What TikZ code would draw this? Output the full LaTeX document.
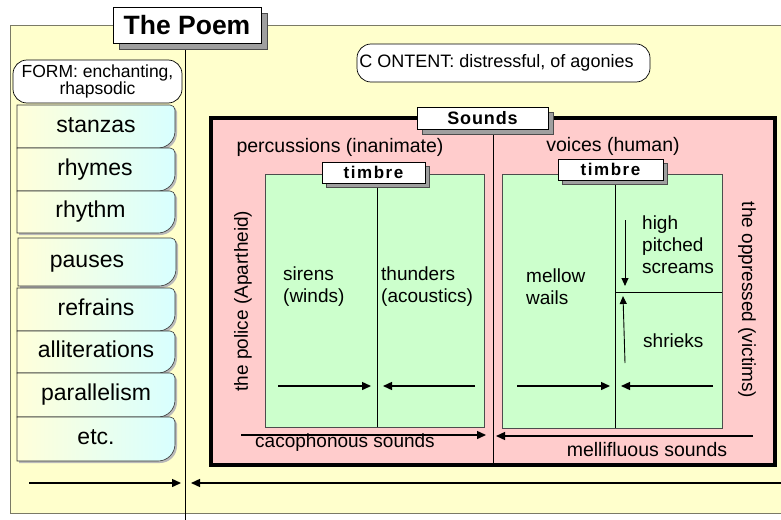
\documentclass[tikz,border=0pt]{standalone}
\usepackage{fontspec}
\setmainfont{Liberation Sans}
\usetikzlibrary{arrows.meta}
\definecolor{bgyellow}{HTML}{FFFFCC}
\definecolor{bgpink}{HTML}{FFCCCC}
\definecolor{bggreen}{HTML}{CCFFCC}
\definecolor{tabyellow}{HTML}{FFFFDA}
\definecolor{tabcyan}{HTML}{D8FFFF}
\definecolor{frameline}{HTML}{7A7A66}
\newcommand\pxfont[2]{\fontsize{#1}{#2}\selectfont}
\newcommand\tabpath[4]{(#1,#2) -- (#3-5,#2) .. controls (#3-2.2,#2) and (#3,#2+2.2) .. (#3,#2+5) -- (#3,#4-17) .. controls (#3,#4-7.6) and (#3-7.6,#4) .. (#3-17,#4) -- (#1,#4) -- cycle}
\newcommand\tabbox[7]{%
  \fill[gray!55, shift={(2,2)}] \tabpath{#2}{#3}{#4}{#5};
  \path[draw=black!80, line width=0.6, left color=tabyellow, right color=tabcyan] \tabpath{#2}{#3}{#4}{#5};
  \node[tablabel] (#1) at (#6,{(#3+#5)/2}) {#7};
}
\tikzset{
  tablabel/.style={font=\pxfont{23}{26}, text height=16.1pt, text depth=4.6pt, inner sep=0pt},
  shadowbox/.style={draw=black!70, fill=gray!75, inner sep=0pt},
  titlebox/.style={draw=black, fill=white, inner sep=0pt, line width=0.7},
  roundbox/.style={draw=black, fill=white, rounded corners=14pt, inner sep=0pt, line width=0.7},
  plain/.style={inner sep=0pt, font=\pxfont{19}{22}},
  greenbox/.style={draw=black!70, fill=bggreen, line width=0.7},
  arr/.style={-{Triangle[length=9pt,width=8pt]}, line width=1.4pt},
  varr/.style={-{Triangle[length=8pt,width=7pt]}, line width=0.9pt},
}
\begin{document}
\begin{tikzpicture}[x=1pt,y=-1pt]
\useasboundingbox (0,0) rectangle (781,519);
\clip (0,0) rectangle (781,519);
\fill[white] (0,0) rectangle (781,519);
% outer frame
\draw[fill=bgyellow, draw=frameline, line width=0.9] (10,25) rectangle (800,513);
\coordinate (divtop) at (185,43);
\coordinate (divbot) at (185,525);
\draw[line width=0.8] (divtop) -- (divbot);
% title
\node[shadowbox, minimum width=148, minimum height=36] (poemsh) at (193,31) {};
\node[titlebox, minimum width=148, minimum height=36, font=\bfseries\pxfont{26.5}{30}] (poem) at (187,25) {The Poem};
% form / content
\node[roundbox, minimum width=169, minimum height=43, font=\pxfont{17.5}{17}, align=center] (form) at (97.5,81.5) {FORM: enchanting,\\rhapsodic};
\node[roundbox, minimum width=293, minimum height=38, font=\pxfont{18}{20}] (content) at (503.5,63) {C ONTENT: distressful, of agonies\kern14pt};
% tabs
\tabbox{stanzas}{17}{105}{175}{148}{96}{stanzas}
\tabbox{rhymes}{17}{148}{175}{191}{95}{rhymes}
\tabbox{rhythm}{17}{191}{175}{233}{90.5}{rhythm}
\tabbox{pauses}{18}{238}{176}{286}{87}{pauses}
\tabbox{refrains}{17}{288}{175}{331}{96}{refrains}
\tabbox{allit}{17}{331}{175}{373}{96}{alliterations}
\tabbox{paral}{17}{373}{175}{417}{96}{parallelism}
\tabbox{etc}{17}{417}{175}{461}{96}{etc.}
% sounds frame
\draw[line width=4, fill=bgpink] (211,118) rectangle (775,465);
\coordinate (midtop) at (493,129);
\coordinate (midbot) at (493,465);
\draw[line width=0.8] (midtop) -- (midbot);
\node[shadowbox, minimum width=131, minimum height=22] (soundssh) at (487.5,123) {};
\node[titlebox, minimum width=131, minimum height=22, font=\bfseries\pxfont{18}{20}\addfontfeature{LetterSpace=5}] (sounds) at (482.5,118) {Sounds};
\node[plain, font=\pxfont{19.5}{22}] (perc) at (340,147) {percussions (inanimate)};
\node[plain, font=\pxfont{19.5}{22}] (voices) at (613,146) {voices (human)};
% left green
\draw[greenbox] (265,174) rectangle (484,427);
\coordinate (ldtop) at (377,182);
\coordinate (ldbot) at (377,427);
\draw[line width=0.8] (ldtop) -- (ldbot);
\node[shadowbox, minimum width=103, minimum height=21] (ltimbresh) at (377.5,176.5) {};
\node[titlebox, minimum width=103, minimum height=21, font=\bfseries\pxfont{17}{20}\addfontfeature{LetterSpace=9}] (ltimbre) at (373.5,172.5) {timbre};
% right green
\draw[greenbox] (502,174) rectangle (722,428);
\coordinate (rdtop) at (615,180);
\coordinate (rdbot) at (615,428);
\draw[line width=0.8] (rdtop) -- (rdbot);
\coordinate (rhl) at (615,292);
\coordinate (rhr) at (722,292);
\draw[line width=0.8] (rhl) -- (rhr);
\node[shadowbox, minimum width=105, minimum height=21] (rtimbresh) at (614.5,173.5) {};
\node[titlebox, minimum width=105, minimum height=21, font=\bfseries\pxfont{17}{20}\addfontfeature{LetterSpace=9}] (rtimbre) at (610.5,169.5) {timbre};
% texts
\node[plain, anchor=west, align=left] (sirens) at (283,287) {sirens\\(winds)};
\node[plain, anchor=west, align=left] (thunders) at (381,287) {thunders\\(acoustics)};
\node[plain, anchor=west, align=left] (mellow) at (526,287) {mellow\\wails};
\node[plain, anchor=west, align=left] (high) at (642,245) {high\\pitched\\screams};
\node[plain, anchor=west] (shrieks) at (643,341) {shrieks};
\node[plain, rotate=90] (police) at (243,301) {the police (Apartheid)};
\node[plain, rotate=-90] (oppressed) at (747,300) {the oppressed (victims)};
% arrows in green boxes
\coordinate (a1s) at (278,386); \coordinate (a1e) at (371,386);
\coordinate (a2s) at (475,386); \coordinate (a2e) at (383,386);
\coordinate (a3s) at (517,386); \coordinate (a3e) at (610,386);
\coordinate (a4s) at (713,386); \coordinate (a4e) at (621,386);
\draw[arr] (a1s) -- (a1e);
\draw[arr] (a2s) -- (a2e);
\draw[arr] (a3s) -- (a3e);
\draw[arr] (a4s) -- (a4e);
\coordinate (v1s) at (625,220); \coordinate (v1e) at (625,286);
\coordinate (v2s) at (625,363); \coordinate (v2e) at (623,296);
\draw[varr] (v1s) -- (v1e);
\draw[varr] (v2s) -- (v2e);
% sound arrows
\coordinate (cacs) at (241,435); \coordinate (cace) at (486,435);
\draw[arr] (cacs) -- (cace);
\node[plain] (cacoph) at (345,443) {cacophonous sounds};
\coordinate (mels) at (753,436); \coordinate (mele) at (496,436);
\draw[arr] (mels) -- (mele);
\node[plain, font=\pxfont{19.5}{22}] (mellif) at (647,450) {mellifluous sounds};
% bottom arrows
\coordinate (b1s) at (29,483); \coordinate (b1e) at (181,483);
\coordinate (b2s) at (790,483); \coordinate (b2e) at (191,483);
\draw[arr] (b1s) -- (b1e);
\draw[arr] (b2s) -- (b2e);
\end{tikzpicture}
\end{document}
